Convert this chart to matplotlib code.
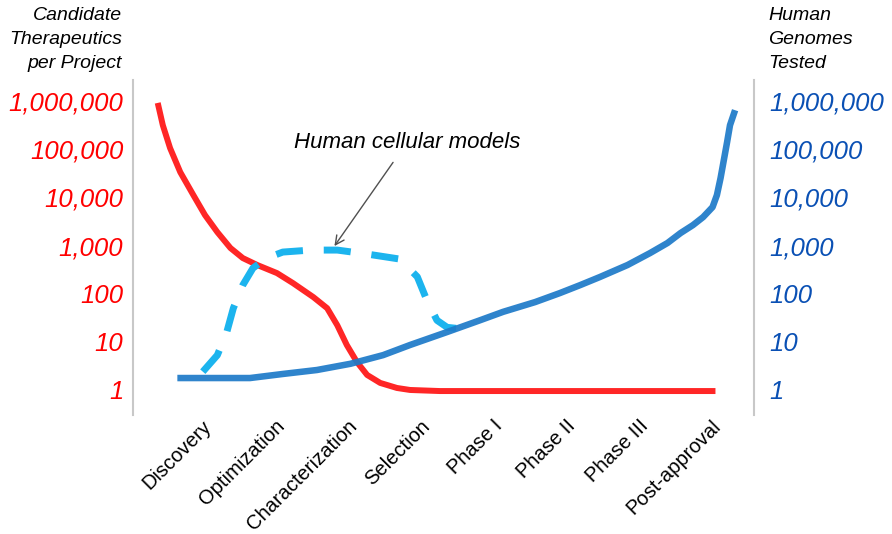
import matplotlib
matplotlib.use("Agg")
import matplotlib.pyplot as plt
from matplotlib.ticker import NullLocator

plt.rcParams['font.family'] = ['Liberation Sans', 'DejaVu Sans']

# stages along the x axis (positions 0..7)
stages = ["Discovery", "Optimization", "Characterization", "Selection",
          "Phase I", "Phase II", "Phase III", "Post-approval"]

# candidate therapeutics per project (red, left axis)
cand_x = [-0.61, -0.54, -0.44, -0.30, -0.12, 0.04, 0.21, 0.39, 0.56, 0.76,
          1.03, 1.25, 1.53, 1.72, 1.86, 1.99, 2.13, 2.27, 2.45, 2.68,
          2.86, 3.27, 3.82, 5.47, 7.06]
cand_y = [920000, 317000, 106000, 33500, 11200, 4300, 1900, 890, 550, 394,
          268, 166, 85, 50, 22, 8.6, 3.8, 2.05, 1.4, 1.1,
          1.0, 0.95, 0.95, 0.95, 0.95]

# human genomes tested (blue, right axis)
genome_x = [-0.34, 0.21, 0.66, 1.11, 1.58, 2.04, 2.49, 2.86, 3.37, 3.82,
            4.14, 4.58, 4.92, 5.20, 5.47, 5.85, 6.16, 6.40, 6.58, 6.75,
            6.89, 7.02, 7.08, 7.13, 7.17, 7.22, 7.26, 7.33]
genome_y = [1.77, 1.77, 1.77, 2.15, 2.6, 3.5, 5.3, 8.6, 16, 28,
            42, 67, 103, 151, 222, 394, 698, 1130, 1820, 2660,
            3900, 6300, 11200, 25200, 54100, 141000, 317000, 650000]

# human cellular models (dashed)
cell_x = [0.01, 0.21, 0.34, 0.43, 0.56, 0.70, 0.89, 1.11, 1.49, 1.86,
          2.27, 2.72, 2.96, 3.09, 3.23, 3.37, 3.51]
cell_y = [2.4, 5.3, 16, 50, 151, 341, 550, 733, 806, 806,
          666, 524, 224, 74, 28, 20, 19]

decades = [1, 10, 100, 1000, 10000, 100000, 1000000]
decade_labels = ["1", "10", "100", "1,000", "10,000", "100,000", "1,000,000"]
grid_vals = [1, 100, 10000, 1000000]

fig = plt.figure(figsize=(8.92, 5.34), dpi=100)
ax = fig.add_axes([133 / 892, 1 - 415 / 534, 621 / 892, 335 / 534])
ax2 = ax.twinx()

for a in (ax, ax2):
    a.set_yscale("log")
    a.set_ylim(10 ** -0.52, 10 ** 6.44)
    a.yaxis.set_minor_locator(NullLocator())
ax.set_xlim(-0.95, 7.59)

ax.plot(cand_x, cand_y, color="#ff2626", lw=4.3, solid_capstyle="butt",
        solid_joinstyle="round", zorder=3)
ax.plot(cell_x, cell_y, color="#1cb4ee", lw=5, dashes=(3.9, 3.0),
        dash_capstyle="butt", dash_joinstyle="round", zorder=4)
ax.plot(genome_x, genome_y, color="#1f7bc9", lw=4.7, alpha=0.93,
        solid_capstyle="butt", solid_joinstyle="round", zorder=5)

# grid at every second decade
ax.set_yticks(grid_vals, minor=True)
ax.grid(True, which="minor", axis="y", color="#d9d9d9", lw=1.2)
ax.set_axisbelow(True)

ax.set_yticks(decades)
ax.set_yticklabels(decade_labels, fontsize=18.5, style="italic", color="#ff0000")
ax2.set_yticks(decades)
ax2.set_yticklabels(decade_labels, fontsize=18.5, style="italic", color="#0a50b4")
ax.tick_params(axis="y", which="both", length=0, pad=7)
ax2.tick_params(axis="y", which="both", length=0, pad=11)

ax.set_xticks(range(len(stages)))
ax.set_xticklabels(stages, rotation=45, ha="right", va="top",
                   rotation_mode="anchor", fontsize=14.5)
ax.tick_params(axis="x", length=0, pad=1)

for s in ("top", "bottom"):
    ax.spines[s].set_visible(False)
for s in ("left", "right"):
    ax.spines[s].set_color("#c8c8c8")
    ax.spines[s].set_linewidth(1.5)
for s in ax2.spines.values():
    s.set_visible(False)

ax.annotate("Human cellular models", xy=(1.82, 977), xytext=(2.82, 140000),
            ha="center", va="center", fontsize=16, style="italic",
            arrowprops=dict(arrowstyle="->", color="#505050", lw=1.0,
                            shrinkA=6, shrinkB=0, mutation_scale=16),
            zorder=6)

fig.text(122 / 892, 1 - 7 / 534, "Candidate\nTherapeutics\nper Project",
         ha="right", va="top", fontsize=14, style="italic", linespacing=1.52)
fig.text(768 / 892, 1 - 7 / 534, "Human\nGenomes\nTested",
         ha="left", va="top", fontsize=14, style="italic", linespacing=1.52)

fig.savefig("out.png", dpi=100)
